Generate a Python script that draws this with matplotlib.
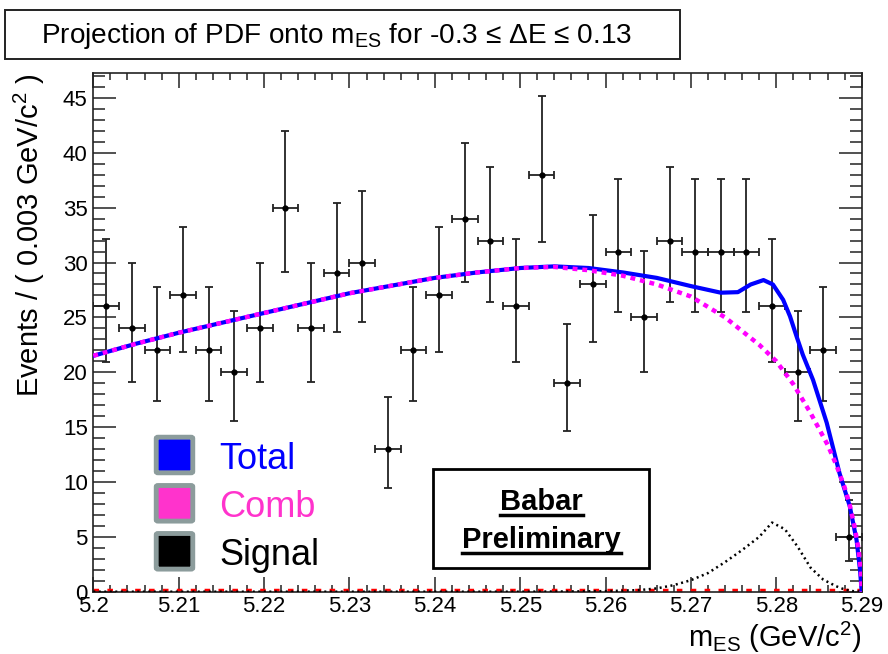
import matplotlib
matplotlib.use('Agg')
import matplotlib.pyplot as plt
from matplotlib import font_manager
from matplotlib.patches import Rectangle, FancyBboxPatch
from matplotlib.lines import Line2D

# данные гистограммы (бины по 0.003)
bin_centers = [5.2015, 5.2045, 5.2075, 5.2105, 5.2135, 5.2165, 5.2195, 5.2225, 5.2255, 5.2285,
               5.2315, 5.2345, 5.2375, 5.2405, 5.2435, 5.2465, 5.2495, 5.2525, 5.2555, 5.2585,
               5.2615, 5.2645, 5.2675, 5.2705, 5.2735, 5.2765, 5.2795, 5.2825, 5.2855, 5.2885]
counts = [26, 24, 22, 27, 22, 20, 24, 35, 24, 29,
          30, 13, 22, 27, 34, 32, 26, 38, 19, 28,
          31, 25, 32, 31, 31, 31, 26, 20, 22, 5]
err_lo = [5.07, 4.87, 4.66, 5.17, 4.66, 4.44, 4.87, 5.90, 4.87, 5.36,
          5.45, 3.57, 4.66, 5.17, 5.81, 5.64, 5.07, 6.14, 4.33, 5.27,
          5.55, 4.97, 5.64, 5.55, 5.55, 5.55, 5.07, 4.44, 4.66, 2.18]
err_hi = [6.17, 5.98, 5.77, 6.27, 5.77, 5.56, 5.98, 6.98, 5.98, 6.45,
          6.55, 4.71, 5.77, 6.27, 6.90, 6.72, 6.17, 7.22, 5.44, 6.36,
          6.64, 6.07, 6.72, 6.64, 6.64, 6.64, 6.17, 5.56, 5.77, 3.40]
bin_half = 0.0015

# кривые PDF
comb_x = [5.200, 5.205, 5.210, 5.215, 5.220, 5.225, 5.230, 5.235, 5.240, 5.245,
          5.250, 5.254, 5.258, 5.262, 5.266, 5.270, 5.274, 5.278, 5.280, 5.282,
          5.284, 5.286, 5.287, 5.288, 5.2886, 5.2892, 5.2896, 5.2899, 5.290]
comb_y = [21.5, 22.6, 23.6, 24.5, 25.4, 26.3, 27.2, 27.9, 28.6, 29.1,
          29.5, 29.6, 29.3, 28.8, 28.0, 26.9, 25.0, 22.5, 21.0, 18.9,
          16.3, 13.4, 11.6, 9.5, 7.9, 5.8, 4.0, 2.0, 0.0]

total_x = [5.200, 5.205, 5.210, 5.215, 5.220, 5.225, 5.230, 5.235, 5.240, 5.245,
           5.250, 5.254, 5.258, 5.262, 5.266, 5.270, 5.2735, 5.2755, 5.277, 5.2785,
           5.2796, 5.2808, 5.2816, 5.2824, 5.2831, 5.2843, 5.2859, 5.2874, 5.2886, 5.2894,
           5.2898, 5.290]
total_y = [21.5, 22.6, 23.6, 24.5, 25.4, 26.3, 27.2, 27.9, 28.6, 29.1,
           29.5, 29.65, 29.5, 29.1, 28.6, 27.85, 27.25, 27.3, 28.0, 28.4,
           28.0, 26.6, 25.1, 23.2, 21.6, 19.3, 15.4, 10.8, 7.8, 4.7,
           2.0, 0.0]

signal_x = [5.200, 5.250, 5.255, 5.260, 5.264, 5.266, 5.268, 5.270, 5.272, 5.274,
            5.276, 5.278, 5.2795, 5.281, 5.2825, 5.284, 5.2855, 5.287, 5.288, 5.289, 5.290]
signal_y = [0.0, 0.0, 0.02, 0.05, 0.15, 0.3, 0.6, 1.05, 1.7, 2.7,
            3.8, 5.0, 6.3, 5.7, 4.1, 2.2, 1.1, 0.5, 0.2, 0.05, 0.0]

red_x = [5.200, 5.290]
red_y = [0.2, 0.2]

x_ticks = [5.20, 5.21, 5.22, 5.23, 5.24, 5.25, 5.26, 5.27, 5.28, 5.29]
x_labels = ['5.2', '5.21', '5.22', '5.23', '5.24', '5.25', '5.26', '5.27', '5.28', '5.29']
y_ticks = [0, 5, 10, 15, 20, 25, 30, 35, 40, 45]

legend_names = ['Total', 'Comb', 'Signal']
legend_colors = ['#0000ff', '#ff33cc', '#000000']

plt.rcParams['font.family'] = ['Liberation Sans', 'DejaVu Sans']
plt.rcParams['mathtext.fontset'] = 'custom'
plt.rcParams['mathtext.rm'] = 'Liberation Sans'
plt.rcParams['mathtext.it'] = 'Liberation Sans'
plt.rcParams['mathtext.bf'] = 'Liberation Sans:bold'

W, H = 888, 654


def px(x, y):
    # пиксели картинки -> координаты фигуры
    return x / W, 1 - y / H


fig = plt.figure(figsize=(W / 100, H / 100), dpi=100)
ax = fig.add_axes([93.3 / W, 1 - 591.7 / H, (861.7 - 93.3) / W, (591.7 - 72.7) / H])

ax.errorbar(bin_centers, counts, xerr=bin_half, yerr=[err_lo, err_hi],
            fmt='o', color='black', ecolor='#222222', markersize=3.5,
            elinewidth=1.3, capsize=3, capthick=1.3, zorder=3)
ax.plot(red_x, red_y, color='red', lw=2.5, dashes=(1.6, 2.4), zorder=2, clip_on=False)
ax.plot(signal_x, signal_y, color='black', lw=1.8, dashes=(0.8, 1.4), zorder=4)
ax.plot(total_x, total_y, color='#0000ff', lw=3, zorder=5)
ax.plot(comb_x, comb_y, color='#ff00ff', lw=3.2, dashes=(1.1, 1.1), zorder=6)

ax.set_xlim(5.2, 5.29)
ax.set_ylim(0, 47.3)
ax.set_xticks(x_ticks)
ax.set_xticklabels(x_labels)
ax.set_xticks([5.2 + 0.002 * i for i in range(46)], minor=True)
ax.set_yticks(y_ticks)
ax.set_yticklabels([str(v) for v in y_ticks])
ax.set_yticks(list(range(0, 48)), minor=True)
ax.tick_params(which='both', direction='in', top=True, right=True, width=1.1, color='#222222')
ax.tick_params(axis='x', which='major', length=11, pad=3, labelsize=16)
ax.tick_params(axis='x', which='minor', length=5)
ax.tick_params(axis='y', which='major', length=16.5, pad=4, labelsize=16)
ax.tick_params(axis='y', which='minor', length=8.5)
for sp in ax.spines.values():
    sp.set_linewidth(1.2)
    sp.set_color('#222222')

# подписи осей
fig.text(*px(29, 73), 'Events / ( 0.003 GeV/c$^{2}$ )', rotation=90,
         ha='center', va='top', fontsize=21)
fig.text(*px(862, 647), r'm$_{\mathrm{ES}}$ (GeV/c$^{2}$)', ha='right',
         va='baseline', fontsize=21)

# заголовок в рамке
fig.add_artist(Rectangle(px(5, 59.3), 675 / W, 49.3 / H, transform=fig.transFigure,
                         fill=False, lw=1.4, edgecolor='#222222'))
narrow = 'Liberation Sans Narrow'
try:
    font_manager.findfont(narrow, fallback_to_default=False)
    title_family = [narrow, 'DejaVu Sans']
except Exception:
    title_family = ['Liberation Sans', 'DejaVu Sans']
title = fig.text(*px(336, 43), r'Projection of PDF onto m$_{\mathrm{ES}}$ for -0.3 ≤ ΔE ≤ 0.13',
                 ha='center', va='baseline', fontsize=18, family=title_family)

# легенда
leg_y = [455, 503.3, 551.3]
for name, col, yc in zip(legend_names, legend_colors, leg_y):
    fig.add_artist(FancyBboxPatch(px(158, yc + 16.5), 33 / W, 33 / H,
                                  boxstyle='round,pad=0.002', transform=fig.transFigure,
                                  facecolor=col, edgecolor='#8c9c9c', lw=3.5))
    fig.text(*px(219, yc + 14), name, color=col, fontsize=26, ha='left', va='baseline')

# рамка Babar Preliminary
fig.add_artist(Rectangle(px(433, 568), 216 / W, 99 / H, transform=fig.transFigure,
                         fill=False, lw=2, edgecolor='black'))
t1 = fig.text(*px(541.5, 510), 'Babar', fontsize=21, weight='bold', ha='center', va='baseline')
t2 = fig.text(*px(541.5, 548.3), 'Preliminary', fontsize=21, weight='bold', ha='center', va='baseline')
fig.canvas.draw()
renderer = fig.canvas.get_renderer()

# подгоняем ширину заголовка (~592 px, как на оригинале)
tw = title.get_window_extent(renderer).width
title.set_fontsize(min(23, 18 * 592 / tw))

for t, yline in [(t1, 515), (t2, 553.3)]:
    bb = t.get_window_extent(renderer)
    x0, x1 = bb.x0 / W, bb.x1 / W
    yy = 1 - yline / H
    fig.add_artist(Line2D([x0, x1], [yy, yy], transform=fig.transFigure, color='black', lw=2.5))

plt.savefig('out.png', dpi=100)
